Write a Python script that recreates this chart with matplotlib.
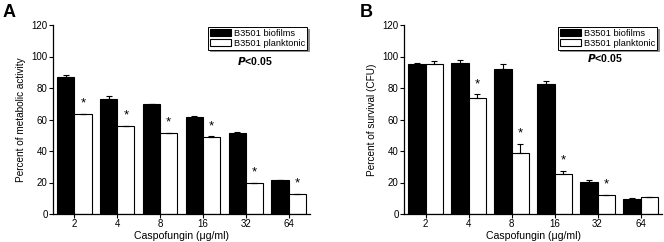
import matplotlib
matplotlib.use("Agg")
import matplotlib.pyplot as plt
import numpy as np

plt.rcParams['font.family'] = ['Liberation Sans', 'DejaVu Sans']

doses = ["2", "4", "8", "16", "32", "64"]
series_names = ["B3501 biofilms", "B3501 planktonic"]

# Panel A: metabolic activity (%)
a_biofilm = [86.8, 73.2, 69.6, 61.8, 51.6, 21.6]
a_biofilm_err = [1.6, 1.7, 0.3, 0.3, 0.2, 0.3]
a_plank = [63.3, 55.9, 51.2, 49.1, 19.5, 12.5]
a_plank_err = [0.4, 0.2, 0.2, 0.2, 0.1, 0.1]
a_sig = [True, True, True, True, True, True]

# Panel B: survival (CFU, %)
b_biofilm = [95.2, 95.7, 92.3, 82.5, 20.5, 9.7]
b_biofilm_err = [0.5, 2.0, 3.0, 1.7, 1.2, 0.3]
b_plank = [95.2, 73.4, 38.5, 25.2, 11.9, 10.6]
b_plank_err = [1.8, 2.6, 6.0, 2.1, 0.4, 0.2]
b_sig = [False, True, True, True, True, False]

W, H = 664, 242
fig = plt.figure(figsize=(W / 100, H / 100), dpi=100)

def px_axes(l, r, t, b):
    return fig.add_axes([l / W, (H - b) / H, (r - l) / W, (b - t) / H])

def panel(ax, bio, bio_err, pl, pl_err, sig, ylabel, legend_anchor):
    x = np.arange(len(doses))
    bw = 0.4
    ax.bar(x - bw / 2, bio, width=bw, color='black', edgecolor='black',
           linewidth=0.8, label=series_names[0], zorder=2)
    ax.bar(x + bw / 2, pl, width=bw, color='white', edgecolor='black',
           linewidth=0.8, label=series_names[1], zorder=2)
    ax.errorbar(x - bw / 2, bio, yerr=[np.zeros(len(bio)), bio_err], fmt='none',
                ecolor='black', elinewidth=0.8, capsize=2.2, capthick=0.8, zorder=3)
    ax.errorbar(x + bw / 2, pl, yerr=[np.zeros(len(pl)), pl_err], fmt='none',
                ecolor='black', elinewidth=0.8, capsize=2.2, capthick=0.8, zorder=3)
    for i, s in enumerate(sig):
        if s:
            ax.text(x[i] + bw / 2, pl[i] + pl_err[i] + 6.5, '*', ha='center',
                    va='center', fontsize=9.5)
    ax.set_xlim(-0.5, 5.5)
    ax.set_ylim(0, 120)
    ax.set_yticks(range(0, 121, 20))
    ax.set_xticks(x)
    ax.set_xticklabels(doses)
    ax.spines['top'].set_visible(False)
    ax.spines['right'].set_visible(False)
    for s in ['left', 'bottom']:
        ax.spines[s].set_linewidth(0.9)
    ax.tick_params(direction='out', length=2.6, width=0.8, pad=1.2, labelsize=7)
    ax.set_xlabel('Caspofungin (\u03bcg/ml)', fontsize=7.6, labelpad=1)
    ax.set_ylabel(ylabel, fontsize=7.2, labelpad=4)
    leg = ax.legend(loc='upper right', bbox_to_anchor=legend_anchor, fontsize=6.7,
                    frameon=True, fancybox=False, borderaxespad=0,
                    handlelength=2.3, handleheight=0.75, labelspacing=0.12,
                    handletextpad=0.3, borderpad=0.18,
                    shadow={'ox': 1.2, 'oy': -1.2, 'color': '0.55', 'alpha': 1})
    leg.get_frame().set_edgecolor('black')
    leg.get_frame().set_linewidth(0.7)
    return ax

axA = px_axes(53, 310, 25, 214)
panel(axA, a_biofilm, a_biofilm_err, a_plank, a_plank_err, a_sig,
      'Percent of metabolic activity', (0.988, 0.989))
axA.text(0.786, 0.81, r'$\bfit{P}$' + '<0.05', transform=axA.transAxes,
         ha='center', va='center', fontsize=7.6, fontweight='bold')

axB = px_axes(404, 662, 25, 214)
panel(axB, b_biofilm, b_biofilm_err, b_plank, b_plank_err, b_sig,
      'Percent of survival (CFU)', (0.98, 0.989))
axB.text(0.78, 0.825, r'$\bfit{P}$' + '<0.05', transform=axB.transAxes,
         ha='center', va='center', fontsize=7.6, fontweight='bold')

fig.text(3 / W, (H - 17) / H, 'A', fontsize=13, fontweight='bold', va='baseline')
fig.text(360 / W, (H - 17) / H, 'B', fontsize=13, fontweight='bold', va='baseline')

fig.savefig('out.png', dpi=100)
